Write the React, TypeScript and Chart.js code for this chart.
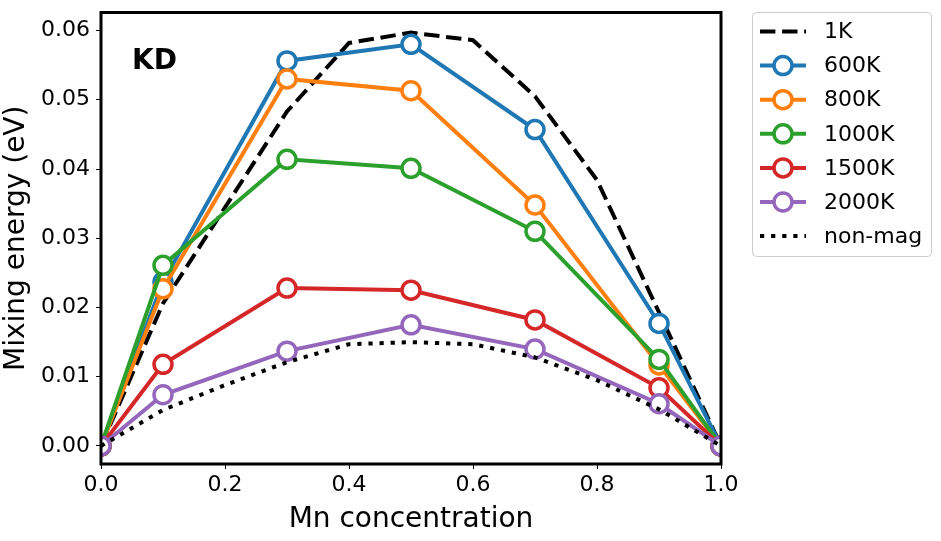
import React, { useEffect, useRef } from "react";
import { Chart, registerables } from "chart.js";

Chart.register(...registerables);

const xMarked = [0, 0.1, 0.3, 0.5, 0.7, 0.9, 1.0];
const x1K = [0, 0.1, 0.3, 0.4, 0.5, 0.6, 0.7, 0.8, 0.9, 1.0];
const y1K = [0, 0.0206, 0.0483, 0.0582, 0.0597, 0.0586, 0.0505, 0.0384, 0.0193, 0];
const y600K = [0, 0.0237, 0.0556, 0.058, 0.0457, 0.0177, 0];
const y800K = [0, 0.0227, 0.053, 0.0513, 0.0348, 0.0117, 0];
const y1000K = [0, 0.0261, 0.0414, 0.0401, 0.031, 0.0125, 0];
const y1500K = [0, 0.0118, 0.0228, 0.0225, 0.0182, 0.0084, 0];
const y2000K = [0, 0.0074, 0.0137, 0.0175, 0.014, 0.0061, 0];
const xNonMag = [0, 0.1, 0.2, 0.3, 0.4, 0.5, 0.6, 0.7, 0.8, 0.9, 1.0];
const yNonMag = [0, 0.0052, 0.0088, 0.0121, 0.0147, 0.015, 0.0147, 0.0128, 0.0095, 0.0053, 0];

const xTicks = [0, 0.2, 0.4, 0.6, 0.8, 1.0];
const yTicks = [0, 0.01, 0.02, 0.03, 0.04, 0.05, 0.06];

const FONT = "'DejaVu Sans', sans-serif";

type Series = { label: string; color: string; kind: "dash" | "marker" | "dot" };
const legendItems: Series[] = [
  { label: "1K", color: "#000000", kind: "dash" },
  { label: "600K", color: "#1f77b4", kind: "marker" },
  { label: "800K", color: "#ff7f0e", kind: "marker" },
  { label: "1000K", color: "#2ca02c", kind: "marker" },
  { label: "1500K", color: "#d62728", kind: "marker" },
  { label: "2000K", color: "#9467bd", kind: "marker" },
  { label: "non-mag", color: "#000000", kind: "dot" },
];

const LW = 4;
const DASH = [15.4, 6.7];
const DOT = [4.2, 6.9];

const framePlugin = {
  id: "frameAndLegend",
  afterDatasetsDraw(chart: any) {
    const { ctx, chartArea } = chart;
    const { left, right, top, bottom } = chartArea;
    ctx.save();
    ctx.fillStyle = "#000";
    ctx.font = `bold 28px ${FONT}`;
    ctx.textAlign = "left";
    ctx.textBaseline = "middle";
    ctx.fillText("KD", left + (right - left) * 0.05, top + (bottom - top) * 0.108);
    ctx.strokeStyle = "#000";
    ctx.lineWidth = 3;
    ctx.strokeRect(left, top, right - left, bottom - top);
    ctx.restore();
  },
  afterDraw(chart: any) {
    const { ctx } = chart;
    ctx.save();
    const bx = 752.5, by = 12.5, bw = 179, bh = 244, r = 4;
    ctx.beginPath();
    ctx.moveTo(bx + r, by);
    ctx.lineTo(bx + bw - r, by);
    ctx.arcTo(bx + bw, by, bx + bw, by + r, r);
    ctx.lineTo(bx + bw, by + bh - r);
    ctx.arcTo(bx + bw, by + bh, bx + bw - r, by + bh, r);
    ctx.lineTo(bx + r, by + bh);
    ctx.arcTo(bx, by + bh, bx, by + bh - r, r);
    ctx.lineTo(bx, by + r);
    ctx.arcTo(bx, by, bx + r, by, r);
    ctx.closePath();
    ctx.fillStyle = "rgba(255,255,255,0.8)";
    ctx.fill();
    ctx.strokeStyle = "#cccccc";
    ctx.lineWidth = 1;
    ctx.stroke();

    const x0 = 760, x1 = 806, tx = 824;
    legendItems.forEach((it, i) => {
      const y = 31.5 + i * 34.1;
      ctx.strokeStyle = it.color;
      ctx.lineWidth = LW;
      ctx.lineCap = "butt";
      ctx.setLineDash(it.kind === "dash" ? DASH : it.kind === "dot" ? DOT : []);
      ctx.beginPath();
      ctx.moveTo(x0, y);
      ctx.lineTo(x1, y);
      ctx.stroke();
      ctx.setLineDash([]);
      if (it.kind === "marker") {
        ctx.beginPath();
        ctx.arc((x0 + x1) / 2, y, 9, 0, Math.PI * 2);
        ctx.fillStyle = "#fff";
        ctx.fill();
        ctx.lineWidth = 3.5;
        ctx.stroke();
      }
      ctx.fillStyle = "#000";
      ctx.font = `22px ${FONT}`;
      ctx.textAlign = "left";
      ctx.textBaseline = "middle";
      ctx.fillText(it.label, tx, y + 1);
    });
    ctx.restore();
  },
};

function pts(xs: number[], ys: number[]) {
  return xs.map((x, i) => ({ x, y: ys[i] }));
}

export default function App() {
  const ref = useRef<HTMLCanvasElement | null>(null);

  useEffect(() => {
    if (!ref.current) return;
    const markerDs = (label: string, color: string, ys: number[], order: number) => ({
      label,
      data: pts(xMarked, ys),
      borderColor: color,
      backgroundColor: color,
      borderWidth: LW,
      pointRadius: 9,
      pointHoverRadius: 9,
      pointBorderWidth: 3.5,
      pointBackgroundColor: "#ffffff",
      pointBorderColor: color,
      tension: 0,
      clip: 0,
      order,
    });
    const chart = new Chart(ref.current, {
      type: "line",
      data: {
        datasets: [
          {
            label: "1K",
            data: pts(x1K, y1K),
            borderColor: "#000",
            borderWidth: LW,
            borderDash: DASH,
            borderCapStyle: "butt",
            pointRadius: 0,
            tension: 0,
            clip: 0,
            order: 7,
          } as any,
          markerDs("600K", "#1f77b4", y600K, 6),
          markerDs("800K", "#ff7f0e", y800K, 5),
          markerDs("1000K", "#2ca02c", y1000K, 4),
          markerDs("1500K", "#d62728", y1500K, 3),
          markerDs("2000K", "#9467bd", y2000K, 2),
          {
            label: "non-mag",
            data: pts(xNonMag, yNonMag),
            borderColor: "#000",
            borderWidth: LW,
            borderDash: DOT,
            borderCapStyle: "butt",
            pointRadius: 0,
            tension: 0,
            clip: 0,
            order: 1,
          } as any,
        ],
      },
      options: {
        animation: false,
        responsive: true,
        maintainAspectRatio: false,
        events: [],
        layout: { padding: { top: 12, right: 220, left: 0, bottom: 0 } },
        plugins: {
          legend: { display: false },
          tooltip: { enabled: false },
        },
        scales: {
          x: {
            type: "linear",
            min: 0,
            max: 1,
            afterFit: (s: any) => {
              s.height = 77;
              s.paddingLeft = 0;
              s.paddingRight = 0;
            },
            afterBuildTicks: (s: any) => {
              s.ticks = xTicks.map((v) => ({ value: v }));
            },
            grid: {
              display: true,
              drawOnChartArea: false,
              drawTicks: true,
              tickLength: 5,
              tickWidth: 1,
              tickColor: "#000",
            },
            border: { display: false },
            ticks: {
              color: "#000",
              font: { family: FONT, size: 22 },
              padding: 3,
              maxRotation: 0,
              autoSkip: false,
              callback: (v: any) => Number(v).toFixed(1),
            },
            title: {
              display: true,
              text: "Mn concentration",
              color: "#000",
              font: { family: FONT, size: 28 },
              padding: { top: 0, bottom: 4 },
            },
          },
          y: {
            type: "linear",
            min: -0.0026,
            max: 0.0626,
            afterFit: (s: any) => {
              s.width = 101;
              s.paddingTop = 0;
              s.paddingBottom = 0;
            },
            afterBuildTicks: (s: any) => {
              s.ticks = yTicks.map((v) => ({ value: v }));
            },
            grid: {
              display: true,
              drawOnChartArea: false,
              drawTicks: true,
              tickLength: 5,
              tickWidth: 1,
              tickColor: "#000",
            },
            border: { display: false },
            ticks: {
              color: "#000",
              font: { family: FONT, size: 22 },
              padding: 6,
              autoSkip: false,
              callback: (v: any) => Number(v).toFixed(2),
            },
            title: {
              display: true,
              text: "Mixing energy (eV)",
              color: "#000",
              font: { family: FONT, size: 28 },
              padding: { top: 0, bottom: 0 },
            },
          },
        },
      } as any,
      plugins: [framePlugin],
    });
    return () => chart.destroy();
  }, []);

  return (
    <div style={{ position: "fixed", left: 0, top: 0, width: 941, height: 541, background: "#fff" }}>
      <canvas ref={ref} />
    </div>
  );
}
